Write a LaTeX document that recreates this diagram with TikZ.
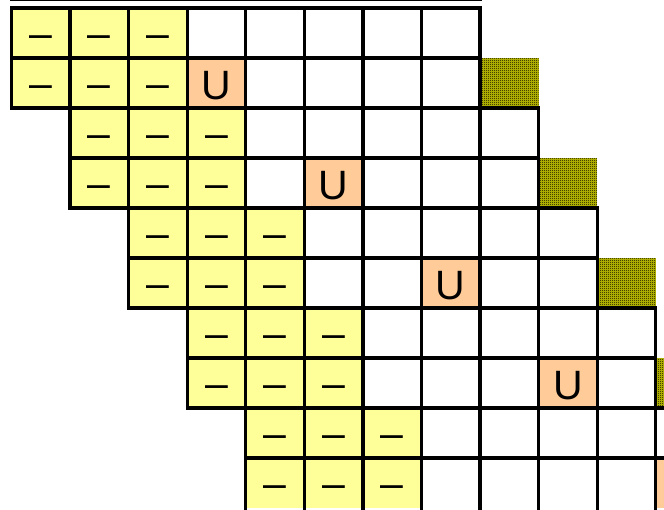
\documentclass[tikz,border=0pt]{standalone}
\usepackage{fontspec}
\setmainfont{Liberation Sans}
\usetikzlibrary{patterns}
\definecolor{cellyellow}{HTML}{FFFF99}
\definecolor{cellorange}{HTML}{FFCC99}
\definecolor{hatchbase}{HTML}{C4C400}
\definecolor{hatchdark}{HTML}{000000}
\pgfdeclarepatternformonly{finecheck}{\pgfpointorigin}{\pgfpoint{2pt}{2pt}}{\pgfpoint{2pt}{2pt}}{%
  \pgfpathrectangle{\pgfpointorigin}{\pgfpoint{1pt}{1pt}}%
  \pgfpathrectangle{\pgfpoint{1pt}{1pt}}{\pgfpoint{1pt}{1pt}}%
  \pgfusepath{fill}}
\begin{document}
\begin{tikzpicture}[x=1pt,y=-1pt,
  gridline/.style={line width=3.4pt, line cap=rect, draw=black},
  yellowcell/.style={fill=cellyellow},
  orangecell/.style={fill=cellorange},
  hatchcell/.style={fill=hatchbase, postaction={pattern=finecheck, pattern color=hatchdark}},
  celltext/.style={anchor=base, inner sep=0pt, font=\fontsize{41}{41}\selectfont}]
\useasboundingbox (0,0) rectangle (664,509);
\clip (0,0) rectangle (664,509);
\def\cw{58.57}
% fills
\foreach \k in {0,...,4} {
  \pgfmathsetmacro{\xa}{11.5+\cw*\k}
  \pgfmathsetmacro{\ya}{8+100*\k}
  \pgfmathsetmacro{\xu}{11.5+\cw*(2*\k+3)}
  \pgfmathsetmacro{\xh}{11.5+\cw*(\k+8)}
  \fill[yellowcell] (\xa,\ya) rectangle ++(3*\cw,100);
  \fill[orangecell] (\xu,\ya+50) rectangle ++(\cw,50);
  \path[hatchcell] (\xh,\ya+50) rectangle ++(\cw,50);
}
% grid lines
\foreach \k in {0,...,4} {
  \pgfmathsetmacro{\xa}{11.5+\cw*\k}
  \pgfmathsetmacro{\xb}{11.5+\cw*(\k+8)}
  \pgfmathsetmacro{\ya}{8+100*\k}
  \draw[gridline] (\xa,\ya) -- (\xb,\ya);
  \draw[gridline] (\xa,\ya+50) -- (\xb,\ya+50);
  \ifnum\k<4
    \draw[gridline] (\xa,\ya+100) -- (\xb,\ya+100);
  \fi
  \foreach \i in {0,...,8} {
    \pgfmathsetmacro{\xv}{11.5+\cw*(\k+\i)}
    \draw[gridline] (\xv,\ya) -- (\xv,\ya+100);
  }
}
% texts
\foreach \k in {0,...,4} {
  \pgfmathsetmacro{\ya}{8+100*\k}
  \pgfmathsetmacro{\xu}{11.5+\cw*(2*\k+3)+\cw/2}
  \node[celltext] (u\k) at (\xu,\ya+50+41.3) {U};
  \foreach \c in {0,1,2} {
    \pgfmathsetmacro{\xd}{11.5+\cw*(\k+\c)+\cw/2}
    \node[celltext] (da\k\c) at (\xd,\ya+39.5) {–};
    \node[celltext] (db\k\c) at (\xd,\ya+50+39.5) {–};
  }
}
% thin top line
\draw[line width=1pt] (10,0.5) -- (481.5,0.5);
\end{tikzpicture}
\end{document}
